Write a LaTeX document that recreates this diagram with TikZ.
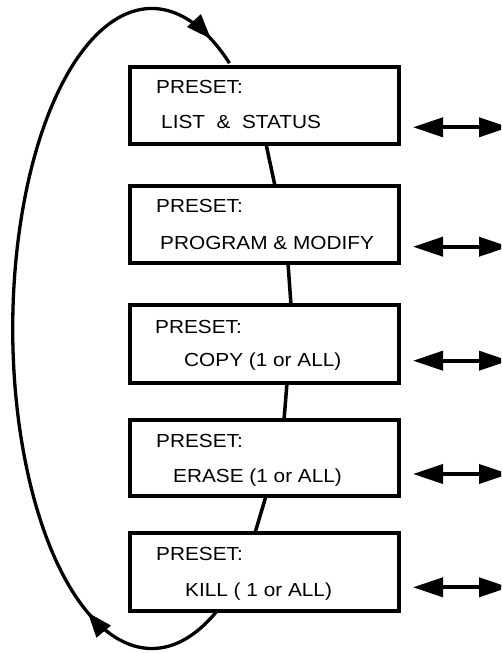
\documentclass[tikz,border=0pt]{standalone}
\usepackage{fontspec}
\setmainfont{Liberation Sans}[FakeStretch=1.1]
\usetikzlibrary{arrows.meta,decorations.markings,backgrounds,calc}
\begin{document}
\begin{tikzpicture}[x=1pt,y=1pt,
  panel/.style={draw=black, line width=4.5pt, fill=white, minimum width=269pt, minimum height=#1, inner sep=0pt, outer sep=0pt, anchor=north west},
  lbl/.style={anchor=base west, inner sep=0pt, font=\fontsize{18.9}{22}\selectfont},
  link/.style={line width=3.5pt},
  cycleline/.style={line width=3.3pt, decoration={markings,
      mark=at position 0.166 with {\arrow{Triangle[length=25pt,width=18pt]}},
      mark=at position 0.967 with {\arrow{Triangle[length=25pt,width=18pt]}}},
    postaction={decorate}},
  dbl/.style={line width=3.8pt, {Triangle[length=30pt,width=19pt]}-{Triangle[length=30pt,width=19pt]}}
]
\clip (0,0) rectangle (501,653);
% boxes
\node[panel=77pt] (b1) at (130,586) {};
\node[panel=77pt] (b2) at (130,467) {};
\node[panel=78pt] (b3) at (130,348) {};
\node[panel=76pt] (b4) at (130,233) {};
\node[panel=78pt] (b5) at (130,120) {};
% texts
\node[lbl] (t1a) at ($(b1.north west)+(26,-26.5)$) {PRESET:};
\node[lbl] (t1b) at ($(b1.north west)+(31,-61.5)$) {LIST\ \ \&\ \ STATUS};
\node[lbl] (t2a) at ($(b2.north west)+(26,-27)$) {PRESET:};
\node[lbl] (t2b) at ($(b2.north west)+(30,-63.5)$) {PROGRAM \& MODIFY};
\node[lbl] (t3a) at ($(b3.north west)+(25,-29)$) {PRESET:};
\node[lbl] (t3b) at ($(b3.north west)+(54,-62)$) {COPY (1 or ALL)};
\node[lbl] (t4a) at ($(b4.north west)+(26,-28)$) {PRESET:};
\node[lbl] (t4b) at ($(b4.north west)+(43,-62.5)$) {ERASE (1 or ALL)};
\node[lbl] (t5a) at ($(b5.north west)+(26,-27.5)$) {PRESET:};
\node[lbl] (t5b) at ($(b5.north west)+(55,-63.5)$) {KILL ( 1 or ALL)};
% connectors and loop behind the boxes
\begin{pgfonlayer}{background}
\draw[link] ($(b1.south west)+(136,0)$) -- ($(b2.north west)+(145,0)$);
\draw[link] ($(b2.south west)+(158,0)$) -- ($(b3.north west)+(161,0)$);
\draw[link] ($(b3.south west)+(157,0)$) -- ($(b4.north west)+(154,0)$);
\draw[link] ($(b4.south west)+(136,0)$) -- ($(b5.north west)+(125,0)$);
\draw[cycleline] ($(b5.south west)+(87,0)$) arc[start angle=-62, end angle=-304, x radius=139pt, y radius=320pt];
\end{pgfonlayer}
% double arrows
\coordinate (r1a) at ($(b1.south east)+(14,16.7)$);
\coordinate (r1b) at ($(b1.south east)+(110,16.7)$);
\coordinate (r2a) at ($(b2.south east)+(14,16.3)$);
\coordinate (r2b) at ($(b2.south east)+(110,16.3)$);
\coordinate (r3a) at ($(b3.south east)+(14,22.3)$);
\coordinate (r3b) at ($(b3.south east)+(110,22.3)$);
\coordinate (r4a) at ($(b4.south east)+(14,22)$);
\coordinate (r4b) at ($(b4.south east)+(110,22)$);
\coordinate (r5a) at ($(b5.south east)+(14,23.7)$);
\coordinate (r5b) at ($(b5.south east)+(110,23.7)$);
\draw[dbl] (r1a) -- (r1b);
\draw[dbl] (r2a) -- (r2b);
\draw[dbl] (r3a) -- (r3b);
\draw[dbl] (r4a) -- (r4b);
\draw[dbl] (r5a) -- (r5b);
\end{tikzpicture}
\end{document}
